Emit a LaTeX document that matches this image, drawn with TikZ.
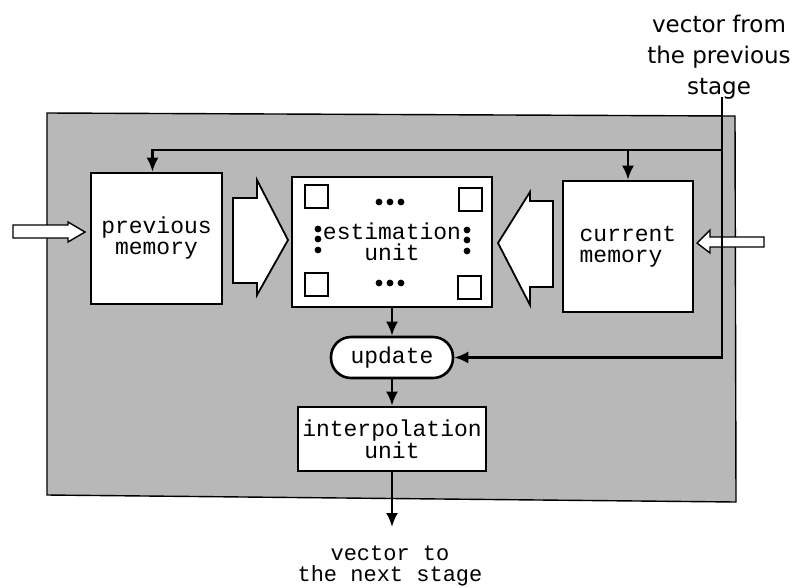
\documentclass[tikz,border=0pt]{standalone}
\usepackage{fontspec}
\setmonofont{Liberation Mono}
\newfontfamily\handfont{DejaVu Sans}
\usepackage{tikz}
\usetikzlibrary{arrows.meta, positioning, calc}

\tikzset{
  box/.style={draw, line width=2.6pt, fill=white, inner sep=0pt, font=\ttfamily\fontsize{23}{21}\selectfont, align=center},
  conn/.style={line width=2.4pt, -{Latex[length=14pt,width=12pt]}},
  blockarrow/.style={draw, line width=1.8pt, fill=white, line join=miter},
  hollowarrow/.style={draw, line width=1.4pt, fill=white},
}

\begin{document}
\begin{tikzpicture}[x=1pt, y=-1pt]
\useasboundingbox (0,0) rectangle (795,587);

% Shaded stage
\filldraw[fill=black!28, draw=black, line width=1.4pt] (47,113) -- (735,116) -- (736,502) -- (47,495) -- cycle;

% Boxes
\node[box, minimum width=131pt, minimum height=131pt] (prevmem) at (156.5,238.5) {previous\\memory};
\node[box, minimum width=200pt, minimum height=130pt] (est) at (392,242) {estimation\\unit};
\node[box, minimum width=130pt, minimum height=131pt, align=left] (curmem) at (628,246.5) {current\\memory};
\node[box, minimum width=122pt, minimum height=41pt, rounded corners=20pt] (update) at (392,357.5) {update};
\node[box, minimum width=188pt, minimum height=64pt] (interp) at (392,439) {interpolation\\unit};

% Cells inside the estimation unit
\foreach \x/\y in {305/185, 459/188, 305/273, 458/276} {
   \draw[line width=1.8pt] (\x,\y) rectangle (\x+23,\y+23);
}
\foreach \x in {379,390,401} {
   \fill (\x,202) circle (3.4pt);
   \fill (\x,283) circle (3.4pt);
}
\foreach \y in {229,239,250} {
   \fill (318,\y) circle (3.4pt);
   \fill (467,\y+1) circle (3.4pt);
}

% Block arrows into the estimation unit
\draw[blockarrow] (233,198) -- (257,198) -- (257,180) -- (288,240) -- (257,295) -- (257,283) -- (233,283) -- cycle;
\draw[blockarrow] (553,201) -- (530,201) -- (530,192) -- (498,243) -- (530,305) -- (530,287) -- (553,287) -- cycle;

% Inputs from outside
\draw[hollowarrow] (13,225) -- (68,225) -- (68,222) -- (85,232) -- (68,242) -- (68,238) -- (13,238) -- cycle;
\draw[hollowarrow] (764,237) -- (710,237) -- (710,230) -- (697,243) -- (710,253) -- (710,247) -- (764,247) -- cycle;

% Labels
\node[font=\handfont\fontsize{23}{31}\selectfont, align=center] (intext) at (719,57) {vector from\\the previous\\stage};
\node[font=\ttfamily\fontsize{22}{21}\selectfont, align=center] (outtext) at (390,566) {vector to\\the next stage};

% Connectors
\coordinate (src) at (722,97);
\coordinate (tap) at (722,150);
\coordinate (branch) at (628,150);
\coordinate (out) at (392,527);
\draw[line width=2.4pt] (src) -- (tap);
\draw[conn] (tap) -| ($(prevmem.north)+(-4,0)$);
\draw[conn] (branch) -- (curmem.north);
\draw[conn] (tap) |- (update.east);
\draw[conn] (est.south) -- (update.north);
\draw[conn] (update.south) -- (interp.north);
\draw[conn] (interp.south) -- (out);
\end{tikzpicture}
\end{document}
